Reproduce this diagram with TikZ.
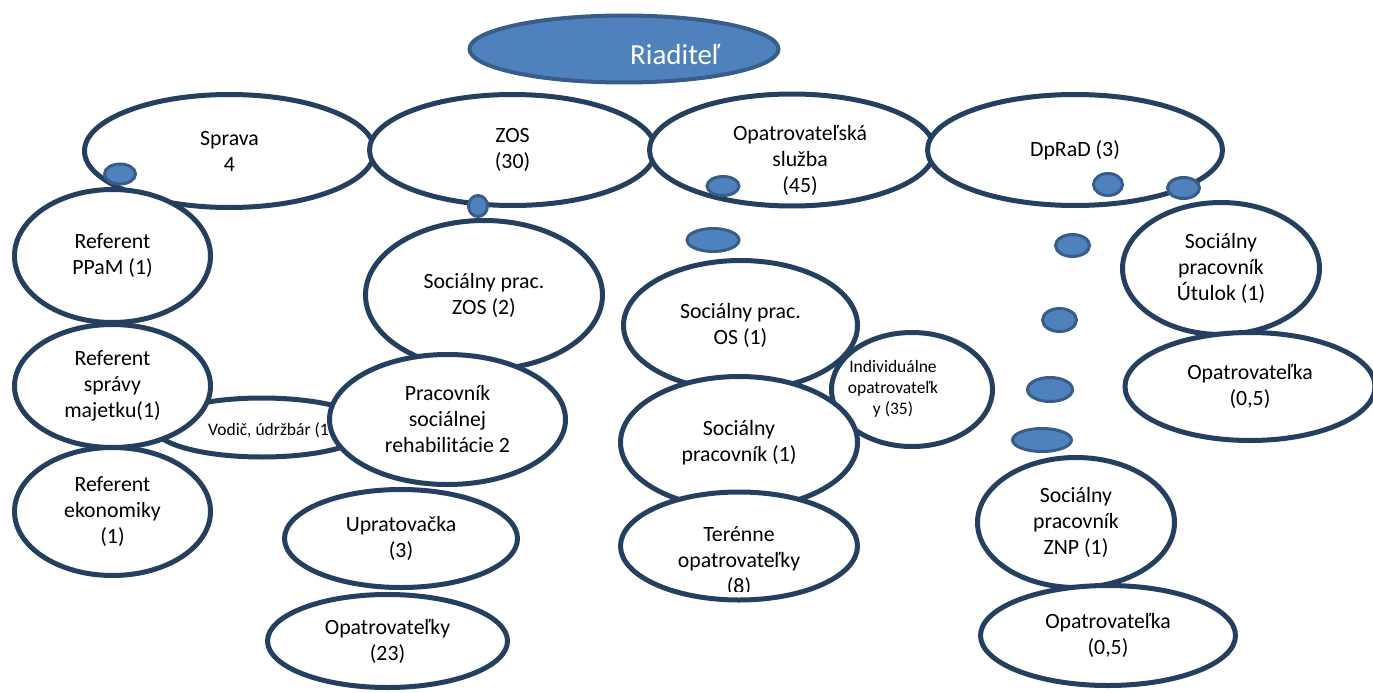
\documentclass[tikz,border=0pt]{standalone}
\usepackage{fontspec}
\setmainfont{Carlito}
\usetikzlibrary{shapes.geometric}
\definecolor{navy}{HTML}{243F60}
\definecolor{dotfill}{HTML}{4F81BD}
\definecolor{dotline}{HTML}{385D8A}
\tikzset{
  oval/.style={ellipse, draw=navy, line width=5pt, fill=white, inner sep=0pt, align=center,
    font=\fontsize{21.8}{26}\selectfont},
  smalltxt/.style={inner sep=0pt, align=center, font=\fontsize{17.5}{21}\selectfont},
  bigtxt/.style={inner sep=0pt, align=center, font=\fontsize{21.8}{26}\selectfont},
  boss/.style={ellipse, draw=dotline, line width=4pt, fill=dotfill, inner sep=0pt},
  dot/.style={ellipse, draw=dotline, line width=3pt, fill=dotfill, inner sep=0pt},
}
\begin{document}
\begin{tikzpicture}[x=1pt,y=-1pt]
\useasboundingbox (0,0) rectangle (1373,693);
% top row
\node[oval, minimum width=290, minimum height=113] (sprava) at (229.5,151) {Sprava\\4};
\node[oval, minimum width=286, minimum height=111] (zos) at (512.5,150) {ZOS\\(30)};
\node[oval, minimum width=285, minimum height=112] (os) at (792,150) {};
\begin{scope}
\clip (660,95) rectangle (930,194);
\node[bigtxt] (ostxt) at (800,160) {Opatrovateľská\\služba\\(45)};
\end{scope}
\node[oval, minimum width=295, minimum height=111] (dprad) at (1075,150) {DpRaD (3)};
\node[boss, minimum width=309, minimum height=67] (riad) at (624,49) {};
\node[anchor=base, inner sep=0pt, text=white, font=\fontsize{29}{34}\selectfont] (riadtxt) at (675,65) {Riaditeľ};
% Sprava column
\node[oval, minimum width=196, minimum height=133] (ppam) at (112.5,256) {Referent\\PPaM (1)};
\node[oval, minimum width=215, minimum height=59] (vodic) at (262,427.5) {};
\node[smalltxt, anchor=base west] (vodictxt) at (208,435) {Vodič, údržbár (1};
\node[oval, minimum width=196, minimum height=123] (majetok) at (112.5,386) {Referent\\správy\\majetku(1)};
\node[oval, minimum width=196, minimum height=128] (ekon) at (112.5,511.5) {Referent\\ekonomiky\\(1)};
% ZOS column
\node[oval, minimum width=237, minimum height=149] (spzos) at (484,295) {Sociálny prac.\\ZOS (2)};
\node[oval, minimum width=236, minimum height=130] (rehab) at (447.5,419.5) {Pracovník\\sociálnej\\rehabilitácie 2};
\node[oval, minimum width=233, minimum height=98] (uprat) at (401,538.5) {Upratovačka\\(3)};
\node[oval, minimum width=240, minimum height=93] (opat23) at (387.5,641) {Opatrovateľky\\(23)};
% OS column
\node[oval, minimum width=161, minimum height=114] (indiv) at (912,389.5) {};
\node[smalltxt] (indivtxt) at (893,389) {Individuálne\\opatrovateľk\\y (35)};
\node[oval, minimum width=234, minimum height=130] (spos) at (740.5,325.5) {Sociálny prac.\\OS (1)};
\node[oval, minimum width=237, minimum height=132] (sprac) at (739,442.5) {Sociálny\\pracovník (1)};
\node[oval, minimum width=237, minimum height=108] (teren) at (739,546) {};
\begin{scope}
\clip (600,480) rectangle (880,591);
\node[bigtxt] (terentxt) at (739,562) {Terénne\\opatrovateľky\\(8)};
\end{scope}
% DpRaD column
\node[oval, minimum width=197, minimum height=132] (utulok) at (1221,268.5) {Sociálny\\pracovník\\Útulok (1)};
\node[oval, minimum width=250, minimum height=108] (opu) at (1250,386.5) {Opatrovateľka\\(0,5)};
\node[oval, minimum width=197, minimum height=130] (znp) at (1076,522.5) {Sociálny\\pracovník\\ZNP (1)};
\node[oval, minimum width=255, minimum height=100] (opz) at (1108,635.5) {Opatrovateľka\\(0,5)};
% dots
\node[dot, minimum width=31, minimum height=20] (d1) at (120,174) {};
\node[dot, minimum width=19, minimum height=21] (d2) at (478,206) {};
\node[dot, minimum width=32, minimum height=19] (d3) at (723,186) {};
\node[dot, minimum width=52, minimum height=23] (d4) at (713,240) {};
\node[dot, minimum width=29, minimum height=22] (d5) at (1108,184.5) {};
\node[dot, minimum width=32, minimum height=21] (d6) at (1183.5,188) {};
\node[dot, minimum width=34, minimum height=22] (d7) at (1072.5,245.5) {};
\node[dot, minimum width=34, minimum height=23] (d8) at (1059.5,320) {};
\node[dot, minimum width=45, minimum height=24] (d9) at (1050,389.5) {};
\node[dot, minimum width=59, minimum height=23] (d10) at (1042,440) {};
\end{tikzpicture}
\end{document}
